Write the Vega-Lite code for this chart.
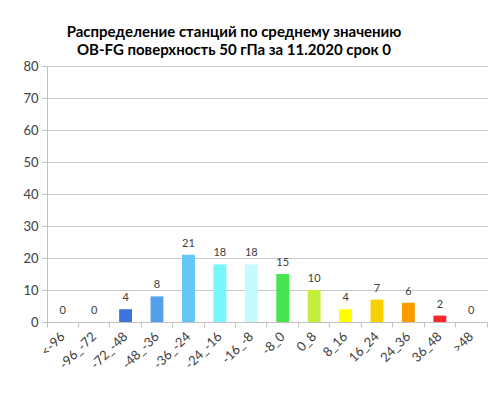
{
  "$schema": "https://vega.github.io/schema/vega-lite/v6.json",
  "width": 440,
  "height": 256,
  "autosize": {"type": "none"},
  "padding": {"left": 47, "top": 66, "right": 9, "bottom": 77},
  "background": "white",
  "title": {
    "text": ["Распределение станций по среднему значению", "OB-FG поверхность  50 гПа за 11.2020 срок  0"],
    "font": "Lato",
    "fontSize": 15,
    "fontWeight": "bold",
    "color": "#000000",
    "anchor": "middle",
    "dx": -33,
    "dy": 5,
    "lineHeight": 18,
    "offset": 7
  },
  "config": {
    "view": {"stroke": null},
    "axis": {
      "labelFont": "Lato",
      "labelColor": "#404040",
      "domainColor": "#BFBFBF",
      "tickColor": "#BFBFBF",
      "gridColor": "#C8C8C8",
      "titleFont": "Lato"
    }
  },
  "data": {
    "values": [
      {"bin": "<-96", "n": 0},
      {"bin": "-96_-72", "n": 0},
      {"bin": "-72_-48", "n": 4},
      {"bin": "-48_-36", "n": 8},
      {"bin": "-36_-24", "n": 21},
      {"bin": "-24_-16", "n": 18},
      {"bin": "-16_-8", "n": 18},
      {"bin": "-8_0", "n": 15},
      {"bin": "0_8", "n": 10},
      {"bin": "8_16", "n": 4},
      {"bin": "16_24", "n": 7},
      {"bin": "24_36", "n": 6},
      {"bin": "36_48", "n": 2},
      {"bin": ">48", "n": 0}
    ]
  },
  "encoding": {
    "x": {
      "field": "bin",
      "type": "nominal",
      "sort": null,
      "scale": {"paddingInner": 0, "paddingOuter": 0},
      "axis": {
        "title": null,
        "bandPosition": 1,
        "tickExtra": true,
        "labelAngle": -45,
        "labelAlign": "right",
        "labelBaseline": "middle",
        "labelFontSize": 13,
        "labelPadding": 7,
        "tickSize": 5,
        "grid": false
      }
    },
    "y": {
      "field": "n",
      "type": "quantitative",
      "scale": {"domain": [0, 80], "nice": false},
      "axis": {
        "title": null,
        "values": [0, 10, 20, 30, 40, 50, 60, 70, 80],
        "labelFontSize": 13,
        "labelPadding": 4,
        "tickSize": 5,
        "grid": true
      }
    }
  },
  "layer": [
    {
      "mark": {"type": "bar", "width": {"band": 0.41}},
      "encoding": {
        "color": {
          "field": "bin",
          "type": "nominal",
          "legend": null,
          "scale": {
            "domain": ["<-96", "-96_-72", "-72_-48", "-48_-36", "-36_-24", "-24_-16", "-16_-8", "-8_0", "0_8", "8_16", "16_24", "24_36", "36_48", ">48"],
            "range": ["#2F4FC0", "#3355CC", "#3F74DC", "#559FE8", "#63C6F3", "#79F6FB", "#C6FBFD", "#47E550", "#C5EE3C", "#FFFF00", "#F9D000", "#F89C00", "#F52830", "#C00000"]
          }
        }
      }
    },
    {
      "mark": {"type": "text", "font": "Lato", "fontSize": 11, "color": "#404040", "baseline": "bottom", "dy": -6},
      "encoding": {"text": {"field": "n", "type": "quantitative"}}
    }
  ]
}
